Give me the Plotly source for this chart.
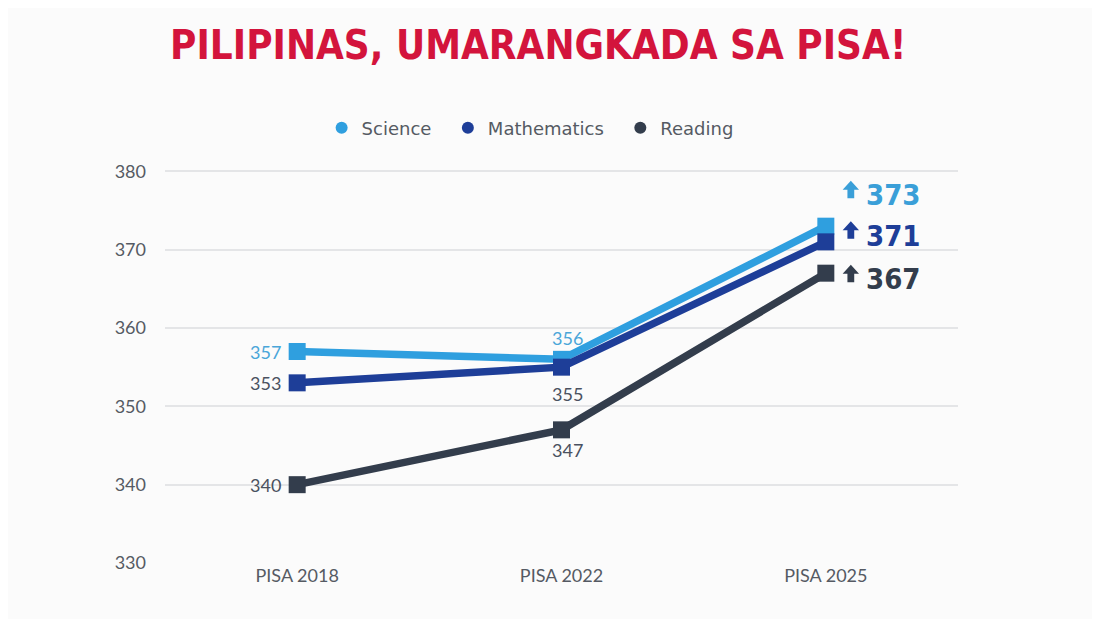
import plotly.graph_objects as go

categories = ["PISA 2018", "PISA 2022", "PISA 2025"]
science = [357, 356, 373]
mathematics = [353, 355, 371]
reading = [340, 347, 367]
y_ticks = [330, 340, 350, 360, 370, 380]
title_text = "PILIPINAS, UMARANGKADA SA PISA!"

C_SCI = "#2F9FDF"
C_MATH = "#1E3E98"
C_READ = "#333D4C"
GRAY = "#555A63"
NB = "\u00a0"

fig = go.Figure()

series = [("Science", science, C_SCI), ("Mathematics", mathematics, C_MATH), ("Reading", reading, C_READ)]
for name, vals, col in series:
    fig.add_trace(go.Scatter(
        x=categories, y=vals, mode="lines+markers", name=name,
        line=dict(color=col, width=7.5),
        marker=dict(symbol="square", size=17, color=col),
        showlegend=False, hoverinfo="skip"))
# legend-only dummies (circle markers)
for name, vals, col in series:
    fig.add_trace(go.Scatter(
        x=[None], y=[None], mode="markers", name=name + NB * 2,
        marker=dict(symbol="circle", size=18, color=col), showlegend=True))

ann = []
shapes = []
LBL = "#4A5160"
# 2018 labels (left)
for vals, col in [(science, "#4AA6D9"), (mathematics, LBL), (reading, LBL)]:
    ann.append(dict(x=categories[0], y=vals[0], text=str(vals[0]), showarrow=False,
                    xanchor="right", xshift=-14, font=dict(size=18, color=col)))
# 2022 labels
ann.append(dict(x=categories[1], y=science[1], text=str(science[1]), showarrow=False,
                yanchor="bottom", yshift=8, xshift=6, font=dict(size=18, color="#4AA6D9")))
ann.append(dict(x=categories[1], y=mathematics[1], text=str(mathematics[1]), showarrow=False,
                yanchor="top", yshift=-14, xshift=6, font=dict(size=18, color=LBL)))
ann.append(dict(x=categories[1], y=reading[1], text=str(reading[1]), showarrow=False,
                yanchor="top", yshift=-7, xshift=6, font=dict(size=18, color=LBL)))


def arrow_path(cx, b):
    # block up-arrow in pixel offsets relative to the anchor point
    pts = [(cx - 3.4, b), (cx - 3.4, b + 8.5), (cx - 8.2, b + 8.5), (cx, b + 17.5),
           (cx + 8.2, b + 8.5), (cx + 3.4, b + 8.5), (cx + 3.4, b)]
    return "M" + " L".join(f"{x},{y}" for x, y in pts) + " Z"


# 2025 labels (right, bold with block arrows)
for vals, col, ys in [(science, "#3A9FD8", 31), (mathematics, C_MATH, 6), (reading, C_READ, -6)]:
    ann.append(dict(x=categories[2], y=vals[2], text="<b>" + str(vals[2]) + "</b>", showarrow=False,
                    xanchor="left", xshift=38, yshift=ys,
                    font=dict(size=29, color=col, family="DejaVu Sans Condensed, Liberation Sans Narrow, sans-serif")))
    shapes.append(dict(type="path", xref="x", yref="y", xsizemode="pixel", ysizemode="pixel",
                       xanchor=categories[2], yanchor=vals[2], path=arrow_path(25, ys - 3),
                       fillcolor=col, line=dict(width=0), layer="above"))

fig.update_layout(
    width=1100, height=619,
    paper_bgcolor="#FBFBFB", plot_bgcolor="#FBFBFB",
    margin=dict(l=157, r=150, t=161, b=64),
    title=dict(text="<b>" + title_text + "</b>", x=0.482, xanchor="center", y=0.94, yanchor="middle",
               font=dict(size=40, color="#D3143C", family="Liberation Sans Narrow, DejaVu Sans Condensed, sans-serif")),
    legend=dict(orientation="h", x=0.468, xanchor="center", y=1.104, yanchor="middle",
                font=dict(size=18, color="#555A63", family="DejaVu Sans, sans-serif"),
                itemsizing="constant", bgcolor="rgba(0,0,0,0)"),
    font=dict(family="Lato, Open Sans, sans-serif"),
    annotations=ann,
    shapes=shapes,
    showlegend=True,
)
fig.update_xaxes(range=[-0.5, 2.5], showgrid=False, zeroline=False, showline=False,
                 tickfont=dict(size=18, color=GRAY), ticks="")
fig.update_yaxes(range=[330, 380.3], tickvals=y_ticks, showgrid=True, gridcolor="#E4E5E7", gridwidth=1.5,
                 zeroline=False, showline=False, tickfont=dict(size=18, color=GRAY), ticks="",
                 ticklabelstandoff=18)

fig.write_html("out.html")
